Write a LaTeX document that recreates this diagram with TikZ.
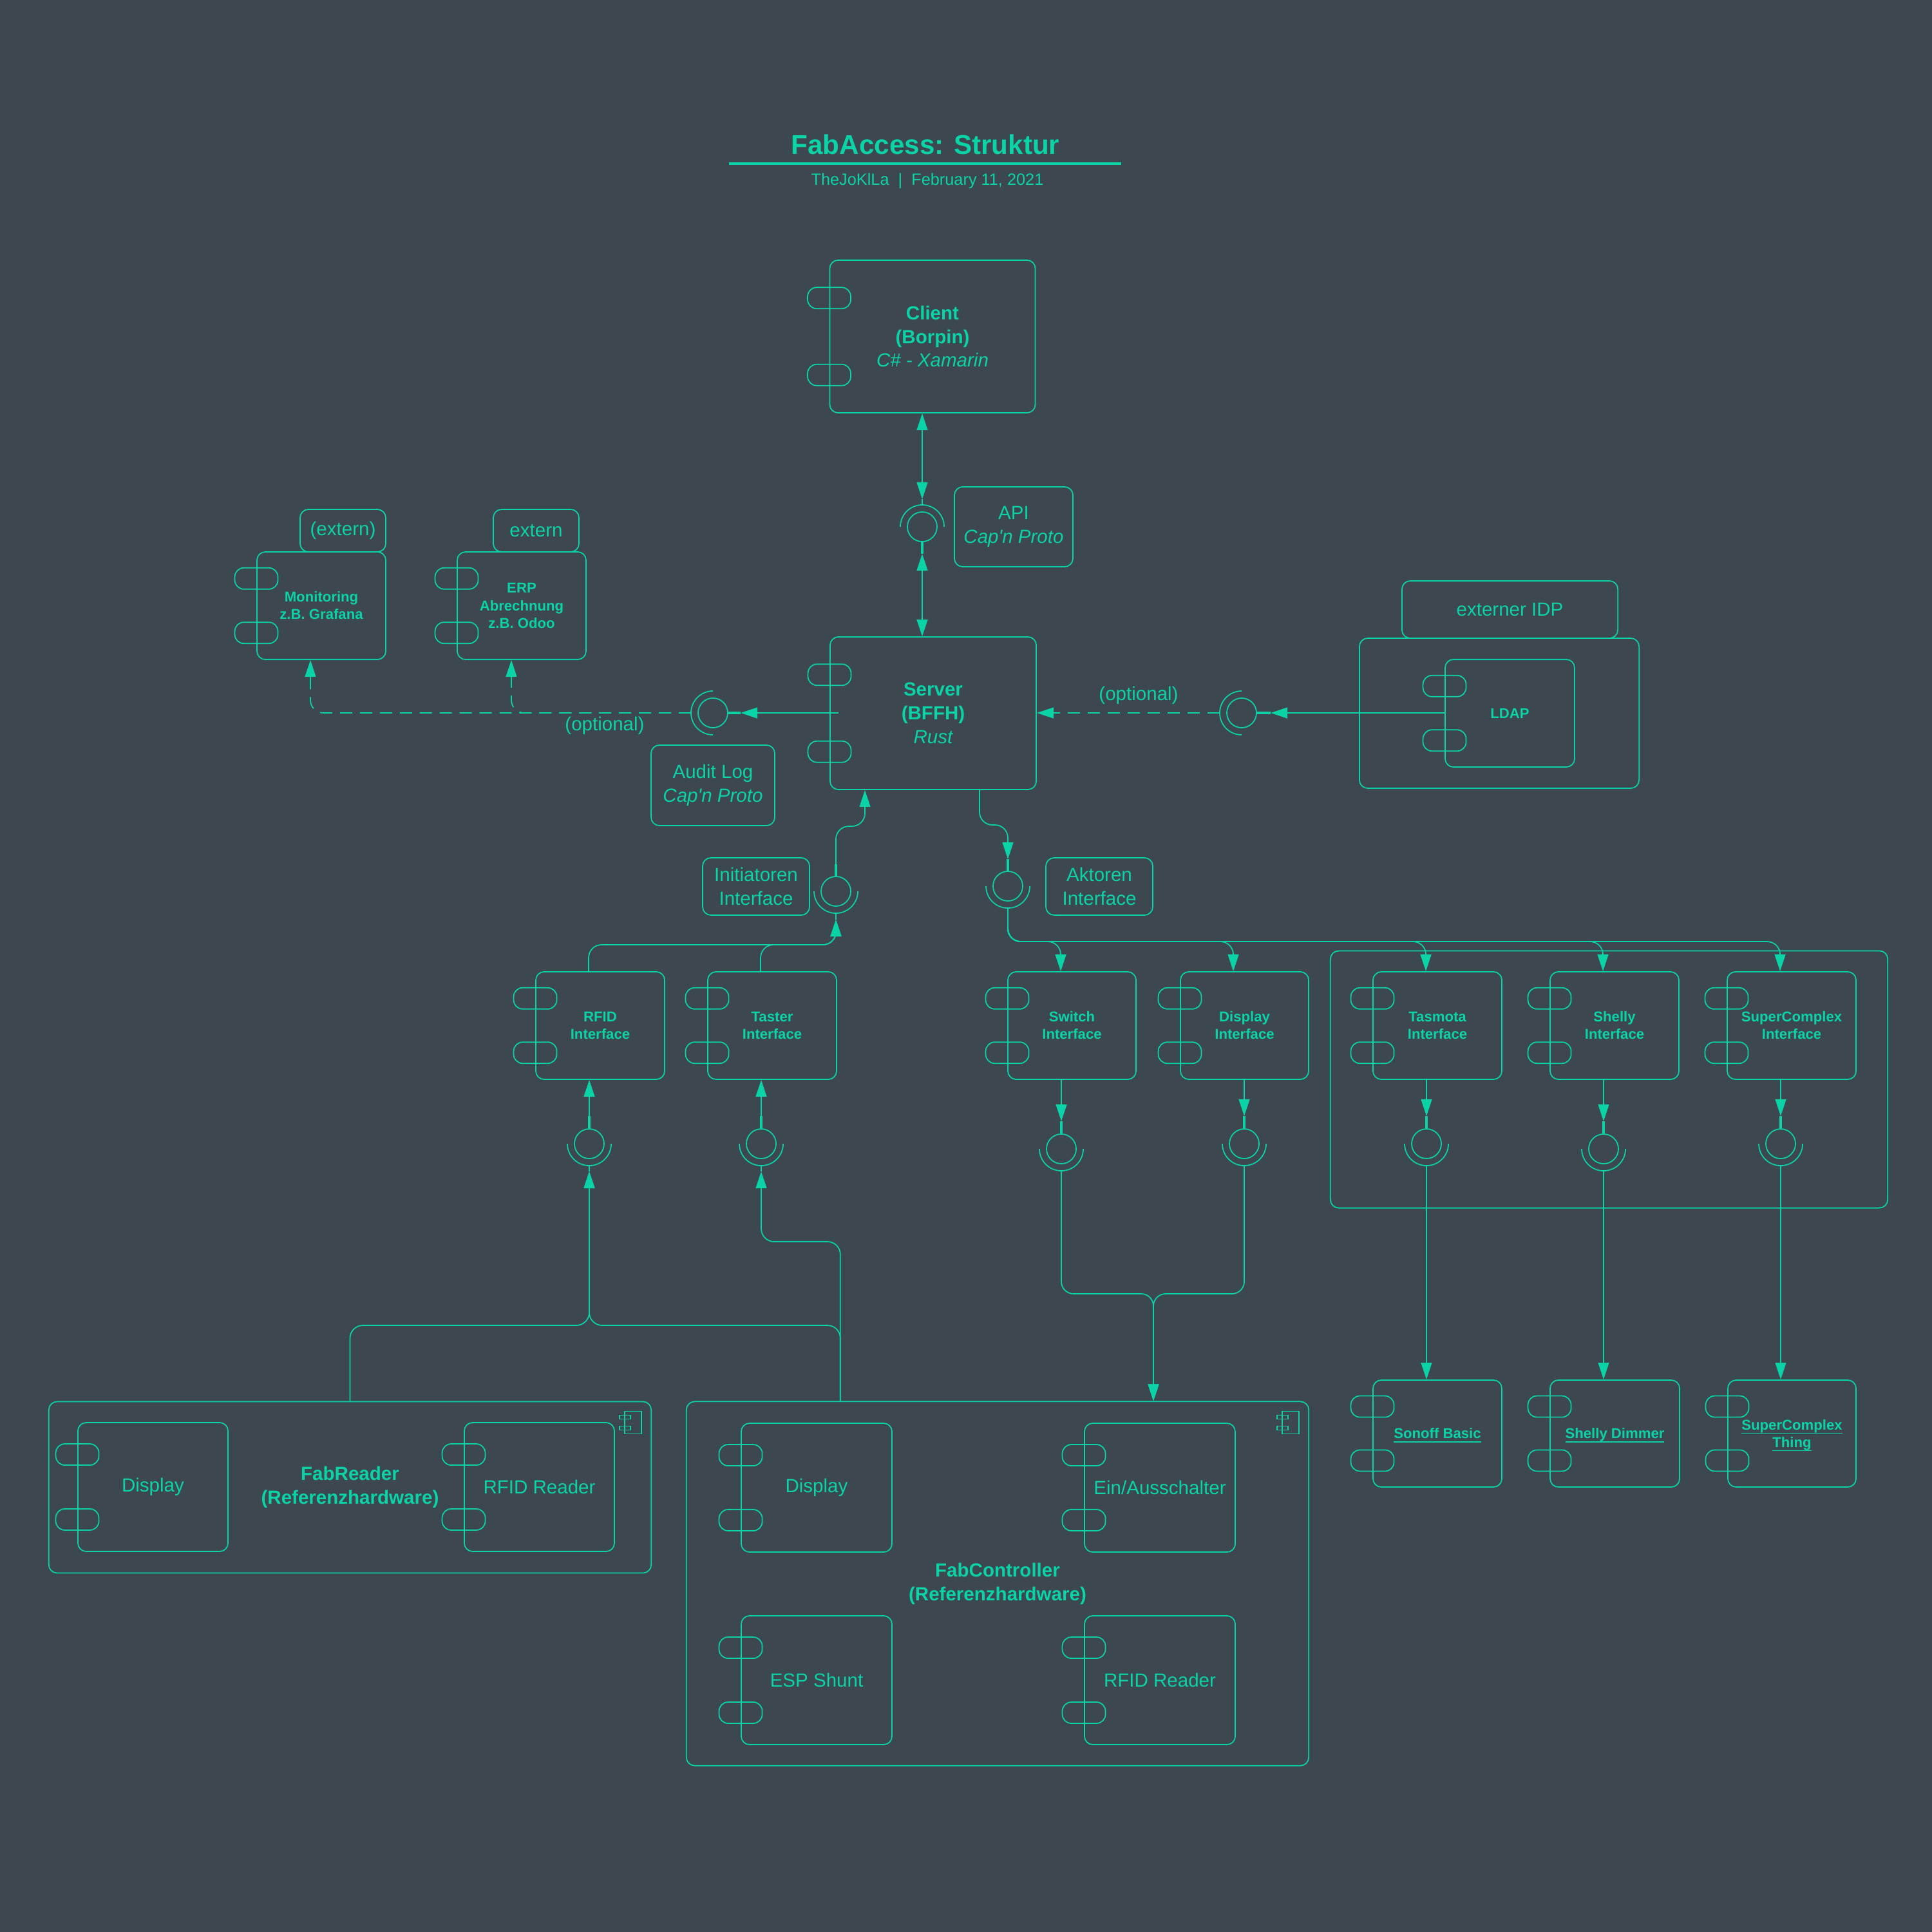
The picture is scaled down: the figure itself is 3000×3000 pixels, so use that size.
\documentclass[tikz,border=0pt]{standalone}
\usepackage{fontspec}
\setmainfont{Liberation Sans}
\usetikzlibrary{arrows.meta,calc}
\definecolor{bg}{HTML}{3C474F}
\definecolor{tl}{HTML}{0AD3A8}
\newcommand\comptabs[1]{%
  \foreach \f in {0.25,0.75}
    \draw[tl, line width=0.5pt, rounded corners=0.14cm]
      ($(#1.north west)!\f!(#1.south west)+(-33.5,-16.5)$) rectangle ++(67,33);}
\newcommand\socketarc[3]{%
  \draw[conn] ($(#1.center)+({34*cos(#2)},{-34*sin(#2)})$) arc[start angle=#2, end angle=#3, radius=0.34cm];}
\newcommand\compicon[1]{%
  \draw[tl, line width=0.5pt] ($(#1.north east)+(-42,16)$) rectangle ++(26,35);
  \draw[tl, line width=0.5pt] ($(#1.north east)+(-50,22)$) rectangle ++(17,6);
  \draw[tl, line width=0.5pt] ($(#1.north east)+(-50,39)$) rectangle ++(17,6);}
\newcommand\ulx[1]{\underline{\smash{#1}}}
\newcommand\hstrut{\rule{0pt}{6.5pt}}
\newcommand\capn{Cap\textquotesingle n Proto}
\begin{document}
\begin{tikzpicture}[x=0.01cm,y=-0.01cm,
  box/.style={draw=tl, line width=0.5pt, rounded corners=0.13cm, inner sep=0pt, align=center, text=tl},
  comp/.style={box, font=\fontsize{6.3}{7.7}\selectfont\bfseries},
  lbl/.style={box, font=\fontsize{8.4}{10.5}\selectfont},
  grp/.style={box, font=\fontsize{8.4}{10.5}\selectfont\bfseries},
  ball/.style={circle, draw=tl, line width=0.5pt, minimum size=0.46cm, inner sep=0pt},
  conn/.style={draw=tl, line width=0.5pt},
  tip/.style={-{Triangle[length=7.4pt,width=4.8pt]}},
  both/.style={{Triangle[length=7.4pt,width=4.8pt]}-{Triangle[length=7.4pt,width=4.8pt]}},
  dsh/.style={dash pattern=on 5.4pt off 3.4pt},
  stub/.style={draw=tl, line width=1.2pt},
  plain/.style={text=tl, inner sep=0pt, font=\fontsize{8.4}{10.5}\selectfont}
]
\fill[bg] (0,0) rectangle (3000,3000);
\useasboundingbox (0,0) rectangle (3000,3000);

% title
\node[text=tl, inner sep=0pt, font=\fontsize{12}{14}\selectfont\bfseries] (title) at (1437,224) {FabAccess: Struktur};
\draw[tl, line width=1pt] (1132,254) -- (1741,254);
\node[text=tl, inner sep=0pt, font=\fontsize{7.2}{9}\selectfont] (subtitle) at (1440,281) {TheJoKlLa~~|~~February 11, 2021};

% client / server
\node[grp, minimum width=3.19cm, minimum height=2.37cm] (client) at (1448,522.5)
  {Client\\(Borpin)\\{\mdseries\itshape C\# - Xamarin}};
\comptabs{client}
\node[grp, minimum width=3.20cm, minimum height=2.37cm] (server) at (1449,1107.5)
  {Server\\(BFFH)\\{\mdseries\itshape Rust}};
\comptabs{server}

% API
\node[ball] (api) at (1432,818) {};
\socketarc{api}{0}{180}
\node[lbl, minimum width=1.84cm, minimum height=1.24cm] (apil) at (1574,818) {API\\{\itshape\capn}};
\draw[conn, both] (client.south -| api) -- ($(api)+(0,-43)$);
\draw[conn] ($(api)+(0,-43)$) -- ($(api)+(0,-34)$);
\draw[stub] (api.south) -- ($(api)+(0,42)$);
\draw[conn, both] ($(api)+(0,42)$) -- (server.north -| api);

% Monitoring / ERP
\node[comp, minimum width=2.00cm, minimum height=1.67cm] (mon) at (499,940.5) {Monitoring\\z.B. Grafana};
\comptabs{mon}
\node[lbl, minimum width=1.33cm, minimum height=0.66cm] (monx) at (532.5,824) {(extern)};
\node[comp, minimum width=2.00cm, minimum height=1.67cm] (erp) at (810,940.5) {ERP\\Abrechnung\\z.B. Odoo};
\comptabs{erp}
\node[lbl, minimum width=1.33cm, minimum height=0.66cm] (erpx) at (832.5,824) {extern};

% Audit log
\node[ball] (audit) at (1107,1107) {};
\socketarc{audit}{90}{270}
\node[lbl, minimum width=1.92cm, minimum height=1.25cm] (auditl) at (1107,1219.5) {Audit Log\\{\itshape\capn}};
\draw[stub] (audit.east) -- ($(audit)+(43,0)$);
\draw[conn, tip] ($(server.west |- audit)+(14,0)$) -- ($(audit)+(43,0)$);
\draw[conn, dsh, rounded corners=0.2cm, tip] ($(audit)+(-34,0)$) -| ($(mon.south)+(-17,0)$);
\draw[conn, dsh, rounded corners=0.2cm, tip] ($(audit)+(-34,0)$) -| ($(erp.south)+(-16,0)$);
\node[plain] (optl) at (939,1127) {(optional)};

% LDAP
\node[box, minimum width=4.34cm, minimum height=2.33cm] (idp) at (2328,1107.5) {};
\node[lbl, minimum width=3.35cm, minimum height=0.89cm] (idpl) at (2344.5,946.5) {externer IDP};
\node[comp, minimum width=2.01cm, minimum height=1.67cm] (ldap) at (2344.5,1107.5) {LDAP};
\comptabs{ldap}
\node[ball] (ldapc) at (1928,1107) {};
\socketarc{ldapc}{90}{270}
\draw[stub] (ldapc.east) -- ($(ldapc)+(45,0)$);
\draw[conn, tip] (ldap.west |- ldapc) -- ($(ldapc)+(45,0)$);
\draw[conn, dsh, tip] ($(ldapc)+(-34,0)$) -- (server.east |- ldapc);
\node[plain] (optr) at (1768,1080) {(optional)};

% Initiatoren / Aktoren
\node[ball] (initc) at (1298,1384) {};
\socketarc{initc}{180}{360}
\node[lbl, minimum width=1.66cm, minimum height=0.89cm] (initl) at (1174,1376.5) {Initiatoren\\Interface};
\node[ball] (aktc) at (1565,1376) {};
\socketarc{aktc}{180}{360}
\node[lbl, minimum width=1.66cm, minimum height=0.89cm] (aktl) at (1707,1376.5) {Aktoren\\Interface};
\coordinate (initup) at (1343,1283);
\draw[stub] (initc.north) -- ($(initc)+(0,-42)$);
\draw[conn, rounded corners=0.2cm, tip] ($(initc)+(0,-42)$) |- (initup) -- (initup |- server.south);
\coordinate (aktup) at (1565,1281);
\draw[conn, rounded corners=0.2cm, tip] ($(server.south)+(72,0)$) |- (aktup) -- ($(aktc)+(0,-42)$);
\draw[stub] ($(aktc)+(0,-42)$) -- (aktc.north);

% interface components
\node[comp, minimum width=2.00cm, minimum height=1.67cm] (rfidi) at (932,1592.5) {RFID\\Interface};
\node[comp, minimum width=2.00cm, minimum height=1.67cm] (taster) at (1199,1592.5) {Taster\\Interface};
\node[comp, minimum width=1.99cm, minimum height=1.67cm] (switch) at (1664.5,1592.5) {Switch\\Interface};
\node[comp, minimum width=1.99cm, minimum height=1.67cm] (dispi) at (1932.5,1592.5) {Display\\Interface};
\node[box, minimum width=8.65cm, minimum height=3.99cm] (grpbox) at (2498.5,1676) {};
\node[comp, minimum width=2.00cm, minimum height=1.67cm] (tasmota) at (2232,1592.5) {Tasmota\\Interface};
\node[comp, minimum width=2.00cm, minimum height=1.67cm] (shelly) at (2507,1592.5) {Shelly\\Interface};
\node[comp, minimum width=2.00cm, minimum height=1.67cm] (supc) at (2782,1592.5) {SuperComplex\\Interface};
\foreach \n in {rfidi,taster,switch,dispi,tasmota,shelly,supc} {\comptabs{\n}}

% initiator inputs
\draw[conn, rounded corners=0.2cm, tip] ($(rfidi.north west)+(83,0)$) |- ($(initc)+(0,83)$) -- ($(initc)+(0,44)$);
\draw[conn, rounded corners=0.2cm, tip] ($(taster.north west)+(83,0)$) |- ($(initc)+(0,83)$) -- ($(initc)+(0,44)$);
\draw[conn] ($(initc)+(0,44)$) -- ($(initc)+(0,34)$);

% actor outputs
\foreach \t in {switch,dispi,tasmota,shelly,supc} {
  \draw[conn, rounded corners=0.2cm, tip] ($(aktc)+(0,34)$) |- ($(\t.north west)+(83,-46)$) -- ($(\t.north west)+(83,0)$);
}

% lower lollipops
\node[ball] (rfidc) at (915,1776) {};
\node[ball] (tasterc) at (1182,1776) {};
\node[ball] (switchc) at (1648,1784) {};
\node[ball] (dispc) at (1932,1776) {};
\node[ball] (tasmotac) at (2215,1776) {};
\node[ball] (shellyc) at (2490,1784) {};
\node[ball] (supcc) at (2765,1776) {};
\foreach \c in {rfidc,tasterc,switchc,dispc,tasmotac,shellyc,supcc} {\socketarc{\c}{180}{360}}
\draw[stub] (rfidc.north) -- ($(rfidc)+(0,-43)$);
\draw[conn, tip] ($(rfidc)+(0,-43)$) -- (rfidi.south -| rfidc);
\draw[stub] (tasterc.north) -- ($(tasterc)+(0,-43)$);
\draw[conn, tip] ($(tasterc)+(0,-43)$) -- (taster.south -| tasterc);
\draw[conn] ($(rfidc)+(0,34)$) -- ($(rfidc)+(0,43)$);
\draw[conn] ($(tasterc)+(0,34)$) -- ($(tasterc)+(0,43)$);
\draw[conn, tip] (switch.south -| switchc) -- ($(switchc)+(0,-43)$);
\draw[stub] ($(switchc)+(0,-43)$) -- (switchc.north);
\draw[conn, tip] (dispi.south -| dispc) -- ($(dispc)+(0,-43)$);
\draw[stub] ($(dispc)+(0,-43)$) -- (dispc.north);
\draw[conn, tip] (tasmota.south -| tasmotac) -- ($(tasmotac)+(0,-43)$);
\draw[stub] ($(tasmotac)+(0,-43)$) -- (tasmotac.north);
\draw[conn, tip] (shelly.south -| shellyc) -- ($(shellyc)+(0,-43)$);
\draw[stub] ($(shellyc)+(0,-43)$) -- (shellyc.north);
\draw[conn, tip] (supc.south -| supcc) -- ($(supcc)+(0,-43)$);
\draw[stub] ($(supcc)+(0,-43)$) -- (supcc.north);

% devices
\node[comp, minimum width=2.00cm, minimum height=1.66cm] (sonoff) at (2232,2226) {\hstrut\ulx{Sonoff Basic}};
\node[comp, minimum width=2.01cm, minimum height=1.66cm] (dimmer) at (2507.5,2226) {\hstrut\ulx{Shelly Dimmer}};
\node[comp, minimum width=1.99cm, minimum height=1.66cm] (thing) at (2782.5,2226) {\hstrut\ulx{SuperComplex}\\\ulx{Thing}};
\foreach \n in {sonoff,dimmer,thing} {\comptabs{\n}}
\draw[conn, tip] ($(tasmotac)+(0,34)$) -- (sonoff.north -| tasmotac);
\draw[conn, tip] ($(shellyc)+(0,34)$) -- (dimmer.north -| shellyc);
\draw[conn, tip] ($(supcc)+(0,34)$) -- (thing.north -| supcc);

% FabReader
\node[grp, minimum width=9.35cm, minimum height=2.66cm] (fabreader) at (543.5,2309.5) {FabReader\\(Referenzhardware)};
\compicon{fabreader}
\node[lbl, minimum width=2.33cm, minimum height=2.00cm] (frdisp) at (237.5,2309) {Display};
\node[lbl, minimum width=2.33cm, minimum height=2.00cm] (frrfid) at (837.5,2309) {RFID Reader};
\comptabs{frdisp}\comptabs{frrfid}

% FabController
\node[grp, minimum width=9.66cm, minimum height=5.65cm] (fabctrl) at (1549,2459) {FabController\\(Referenzhardware)};
\compicon{fabctrl}
\node[lbl, minimum width=2.34cm, minimum height=2.00cm] (fcdisp) at (1268,2310) {Display};
\node[lbl, minimum width=2.34cm, minimum height=2.00cm] (fcein) at (1801,2310) {Ein/Ausschalter};
\node[lbl, minimum width=2.34cm, minimum height=2.00cm] (fcesp) at (1268,2609) {ESP Shunt};
\node[lbl, minimum width=2.34cm, minimum height=2.00cm] (fcrfid) at (1801,2609) {RFID Reader};
\foreach \n in {fcdisp,fcein,fcesp,fcrfid} {\comptabs{\n}}

% merge switch/display -> FabController
\coordinate (merge) at (1791,2009);
\draw[conn, rounded corners=0.19cm, tip] ($(switchc)+(0,34)$) |- (merge) -- (merge |- fabctrl.north);
\draw[conn, rounded corners=0.19cm, tip] ($(dispc)+(0,34)$) |- (merge) -- (merge |- fabctrl.north);

% hardware -> initiator interfaces
\coordinate (rfidj) at (915,2058);
\coordinate (tasterj) at (1182,1928);
\draw[conn, rounded corners=0.2cm, tip] (fabreader.north) |- (rfidj) -- ($(rfidc)+(0,43)$);
\draw[conn, rounded corners=0.2cm, tip] ($(fabctrl.north west)+(240,0)$) |- (rfidj) -- ($(rfidc)+(0,43)$);
\draw[conn, rounded corners=0.2cm, tip] ($(fabctrl.north west)+(240,0)$) |- (tasterj) -- ($(tasterc)+(0,43)$);
\end{tikzpicture}
\end{document}
